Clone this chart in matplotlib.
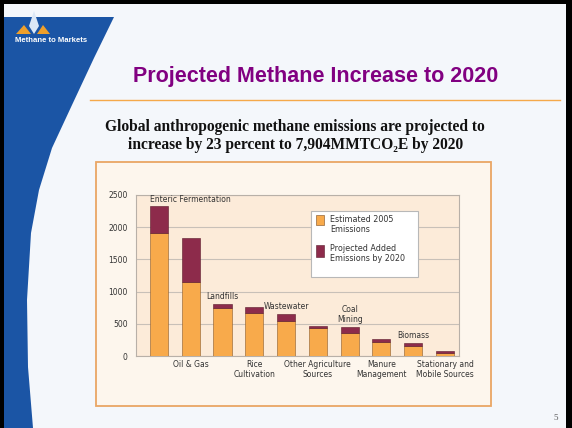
import matplotlib
matplotlib.use("Agg")
import matplotlib.pyplot as plt
from matplotlib.patches import Rectangle, Polygon
import numpy as np

W, H = 572, 428

sources = ["Enteric Fermentation", "Oil & Gas", "Landfills", "Rice\nCultivation",
           "Wastewater", "Other Agriculture\nSources", "Coal\nMining",
           "Manure\nManagement", "Biomass", "Stationary and\nMobile Sources"]
estimated_2005 = [1913, 1151, 747, 669, 545, 436, 364, 218, 162, 53]
added_2020 = [416, 676, 53, 93, 104, 26, 87, 47, 40, 25]
yticks = [0, 500, 1000, 1500, 2000, 2500]

ORANGE = "#f8aa4b"
MAROON = "#8d2b4b"
narrow = ["Liberation Sans Narrow", "DejaVu Sans"]


def px_axes(fig, x0, y0, x1, y1, **kw):
    return fig.add_axes([x0 / W, 1 - y1 / H, (x1 - x0) / W, (y1 - y0) / H], **kw)


def overlay(fig):
    o = px_axes(fig, 0, 0, W, H)
    o.set_xlim(0, W)
    o.set_ylim(H, 0)
    o.axis("off")
    o.patch.set_alpha(0)
    return o


fig = plt.figure(figsize=(W / 100, H / 100), dpi=100)
fig.patch.set_facecolor("#f4f7fb")

# slide decoration in pixel coords
bg = overlay(fig)

band = Polygon([(4, 17), (114, 17), (94, 58), (72, 105), (52, 148), (39, 190),
                (31, 233), (27, 300), (28, 367), (33, 428), (4, 428)],
               closed=True, facecolor="#1b55a5", edgecolor="none")
bg.add_patch(band)
# logo
bg.add_patch(Polygon([(16, 34), (24, 25), (31, 34)], facecolor="#f0a02a", edgecolor="none"))
bg.add_patch(Polygon([(37, 34), (43, 25), (50, 34)], facecolor="#f0a02a", edgecolor="none"))
bg.add_patch(Polygon([(34, 11), (39, 26), (34, 34), (29, 26)], facecolor="#dce8f6", edgecolor="none"))
bg.text(15, 40, "Methane to Markets", color="white", fontsize=5.6, fontweight="bold",
        family="Liberation Sans", va="center", ha="left")

# black border
bg.add_patch(Rectangle((0, 0), W, 4, facecolor="black", edgecolor="none"))
bg.add_patch(Rectangle((0, 0), 4, H, facecolor="black", edgecolor="none"))
bg.add_patch(Rectangle((566, 0), 6, H, facecolor="black", edgecolor="none"))

bg.text(316, 76, "Projected Methane Increase to 2020", color="#810081", fontsize=15.5,
        fontweight="bold", family="Liberation Sans", ha="center", va="center")
bg.plot([90, 560], [100, 100], color="#f5a94a", lw=1)

bg.text(295, 127, "Global anthropogenic methane emissions are projected to",
        fontsize=11.2, fontweight="bold", family=["Liberation Serif", "DejaVu Serif"],
        ha="center", va="center", color="#111111")
bg.text(296, 145, "increase by 23 percent to 7,904MMTCO\u2082E by 2020",
        fontsize=11.2, fontweight="bold", family=["Liberation Serif", "DejaVu Serif"],
        ha="center", va="center", color="#111111")
bg.text(556, 418, "5", fontsize=6.5, color="#555555", family="Liberation Serif",
        ha="center", va="center")

# chart frame
bg.add_patch(Rectangle((96, 162), 395, 244, facecolor="#fdf6ed", edgecolor="#eaa664", lw=1.3))

# chart
ax = px_axes(fig, 136, 195, 459, 356)
ax.set_facecolor("#fcebd9")
x = np.arange(len(sources))
width = 0.57
ax.bar(x, estimated_2005, width, color=ORANGE, edgecolor="#8a5a2a", lw=0.4, zorder=3)
ax.bar(x, added_2020, width, bottom=estimated_2005, color=MAROON, edgecolor="#5a1a2a",
       lw=0.4, zorder=3)
ax.set_xlim(-0.72, 9.44)
ax.set_ylim(0, 2500)
ax.set_yticks(yticks)
ax.set_yticklabels([str(v) for v in yticks], fontsize=5.5, family=narrow, color="#333333")
ax.tick_params(length=0, pad=6)
ax.set_xticks([])
ax.grid(axis="y", color="#c8c0b8", lw=0.8, zorder=0)
for s in ax.spines.values():
    s.set_color("#b8b0a8")
    s.set_linewidth(0.8)

totals = np.array(estimated_2005) + np.array(added_2020)
for i, name in enumerate(sources):
    if i % 2 == 0:
        if i == 0:
            ax.annotate(name, xy=(i - width / 2, totals[i]), xytext=(0, 2),
                        textcoords="offset pixels", ha="left", va="bottom",
                        fontsize=5.5, family=narrow, color="#333333")
        else:
            ax.annotate(name, xy=(i, totals[i]), xytext=(0, 3),
                        textcoords="offset pixels", ha="center", va="bottom",
                        fontsize=5.5, family=narrow, color="#333333", linespacing=1.2)
    else:
        ax.annotate(name, xy=(i, 0), xytext=(0, -4), textcoords="offset pixels",
                    ha="center", va="top", fontsize=5.5, family=narrow,
                    color="#333333", linespacing=1.2, annotation_clip=False)

# legend box drawn above the chart
top = overlay(fig)
top.add_patch(Rectangle((311, 211), 107, 66, facecolor="white", edgecolor="#b8b8b8", lw=0.8))
top.add_patch(Rectangle((316, 215), 8, 10, facecolor=ORANGE, edgecolor="#7a4a20", lw=0.4))
top.add_patch(Rectangle((316, 245), 8, 12, facecolor=MAROON, edgecolor="#5a1a2a", lw=0.4))
top.text(330, 215, "Estimated 2005\nEmissions", fontsize=5.8, family=narrow, color="#333333",
         va="top", ha="left", linespacing=1.15)
top.text(330, 244, "Projected Added\nEmissions by 2020", fontsize=5.8, family=narrow,
         color="#333333", va="top", ha="left", linespacing=1.15)

fig.savefig("out.png", dpi=100, facecolor=fig.get_facecolor())
